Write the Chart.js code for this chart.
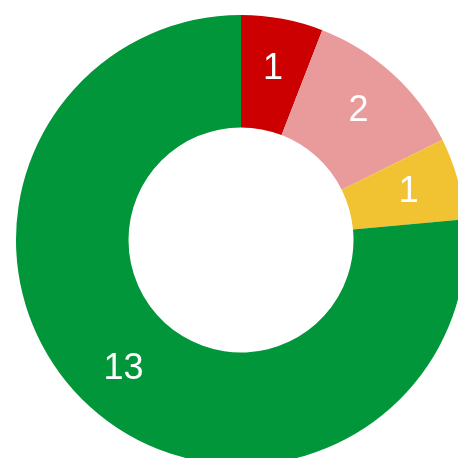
<!DOCTYPE html>
<html>
<head>
<meta charset="utf-8">
<script src="https://cdn.jsdelivr.net/npm/chart.js@4.4.1/dist/chart.umd.min.js"></script>
<style>
  html, body { margin: 0; padding: 0; background: #fff; overflow: hidden; width: 458px; height: 458px; }
  #wrap { position: absolute; left: 16px; top: 15px; width: 450px; height: 450px; }
</style>
</head>
<body>
<div id="wrap"><canvas id="chart"></canvas></div>
<script>
// Slice data
const labels = ['A', 'B', 'C', 'D'];
const values = [1, 2, 1, 13];
const colors = ['#cc0000', '#e99a9a', '#f1c232', '#009639'];

// Draw the value inside each slice
const sliceLabels = {
  id: 'sliceLabels',
  afterDatasetsDraw(chart) {
    const { ctx } = chart;
    const meta = chart.getDatasetMeta(0);
    ctx.save();
    ctx.fillStyle = '#ffffff';
    ctx.font = '36px "Liberation Sans", Arial, sans-serif';
    ctx.textAlign = 'center';
    ctx.textBaseline = 'middle';
    meta.data.forEach((arc, i) => {
      const p = arc.getProps(['x', 'y', 'startAngle', 'endAngle', 'innerRadius', 'outerRadius'], true);
      const mid = (p.startAngle + p.endAngle) / 2;
      const r = p.innerRadius + (p.outerRadius - p.innerRadius) * 0.55;
      ctx.fillText(String(values[i]), p.x + Math.cos(mid) * r, p.y + Math.sin(mid) * r);
    });
    ctx.restore();
  },
};

new Chart(document.getElementById('chart'), {
  type: 'doughnut',
  data: {
    labels: labels,
    datasets: [{
      data: values,
      backgroundColor: colors,
      borderWidth: 0,
    }],
  },
  options: {
    responsive: true,
    maintainAspectRatio: false,
    animation: false,
    cutout: '50%',
    layout: { padding: 0 },
    plugins: {
      legend: { display: false },
      tooltip: { enabled: false },
    },
  },
  plugins: [sliceLabels],
});
</script>
</body>
</html>
